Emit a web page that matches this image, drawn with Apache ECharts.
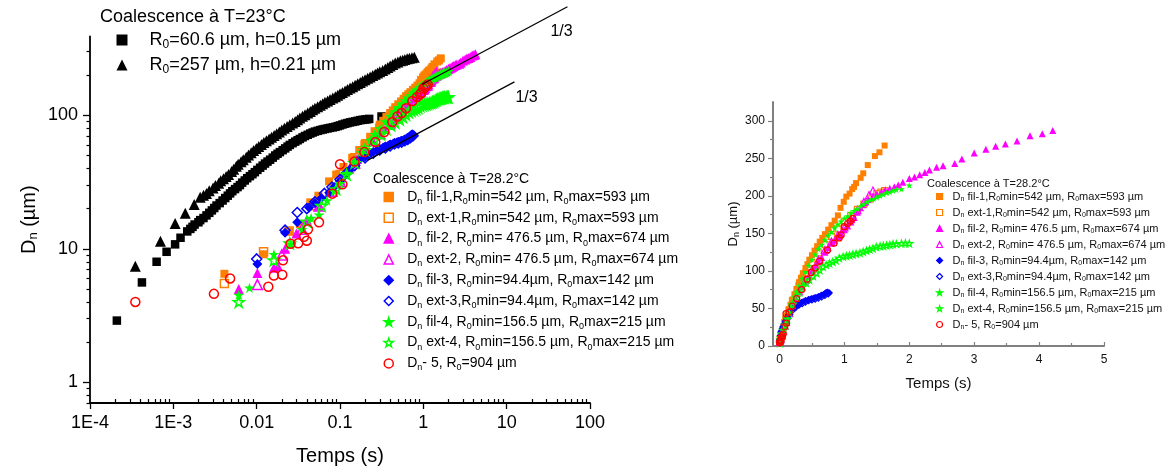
<!DOCTYPE html>
<html><head><meta charset="utf-8">
<script src="https://cdn.jsdelivr.net/npm/echarts@6/dist/echarts.min.js"></script>
<style>html,body{margin:0;padding:0;background:#fff}#c{width:1170px;height:472px}</style>
</head><body><div id="c"></div>
<script>
// ---------------- DATA (t in s, Dn in µm) ----------------
const sqData = [[0.00021,2.9],[0.00042,5.6],[0.00063,8.0],[0.00083,9.5],[0.00105,10.8],[0.00122,12.1],[0.00147,13.5],[0.0016,14.1],[0.0017,14.6],[0.0018,15.2],[0.002,15.8],[0.0021,16.4],[0.0023,17.0],[0.0025,17.8],[0.0027,18.6],[0.0029,19.4],[0.0031,20.2],[0.0033,21.1],[0.0036,22],[0.0039,23],[0.0042,24],[0.0045,25],[0.0048,26],[0.0051,27],[0.0055,28],[0.0059,29],[0.0063,30],[0.0067,31.3],[0.0072,32.5],[0.0077,33.8],[0.0083,35],[0.0089,36.2],[0.0095,37.5],[0.0102,39],[0.011,40.5],[0.0118,42],[0.0126,43.5],[0.0135,45],[0.0145,46.5],[0.0156,48.2],[0.0167,50],[0.0178,51.5],[0.019,53],[0.0205,54.8],[0.022,56.5],[0.0235,58.3],[0.025,60],[0.027,61.8],[0.029,63.5],[0.031,65],[0.033,66.5],[0.0355,68.3],[0.038,70],[0.041,71.5],[0.044,73],[0.047,74.3],[0.05,75.5],[0.054,76.5],[0.058,77.5],[0.062,78.3],[0.066,79],[0.071,79.8],[0.076,80.5],[0.082,81.2],[0.088,82],[0.094,83],[0.1,84],[0.107,85.3],[0.115,86.5],[0.123,87.5],[0.132,88.5],[0.142,89.3],[0.152,90],[0.163,91],[0.175,92],[0.187,92.5],[0.2,93],[0.212,93.5],[0.224,94],[0.315,98]];
const triData = [[0.00035,7.4],[0.0007,11.4],[0.00105,15.5],[0.00139,18.5],[0.00178,21.5],[0.0021,24.3],[0.0023,25.2],[0.0025,26],[0.0027,27.2],[0.003,28.5],[0.0032,29.8],[0.0035,31],[0.0037,32.3],[0.004,33.5],[0.0043,34.8],[0.0046,36],[0.005,38],[0.0053,39.5],[0.0057,41.5],[0.006,43],[0.0065,44.8],[0.0069,46.5],[0.0075,48.5],[0.008,50.5],[0.0086,52.5],[0.0092,54.5],[0.0099,56.5],[0.0106,58.5],[0.0114,60.5],[0.0122,62.5],[0.0131,64.5],[0.0141,66.5],[0.0151,68.5],[0.0162,70.5],[0.0174,72.8],[0.0187,75],[0.02,77.5],[0.0215,80],[0.0232,82.5],[0.025,85],[0.027,87.5],[0.029,90],[0.031,92.8],[0.033,95.5],[0.0355,98.3],[0.038,101],[0.041,104],[0.044,107],[0.047,110],[0.05,113],[0.054,116],[0.058,119],[0.062,122],[0.066,125],[0.071,128],[0.076,131.5],[0.082,134.8],[0.088,138],[0.094,141.5],[0.1,145],[0.107,148.5],[0.115,152],[0.123,156],[0.132,160],[0.142,164],[0.152,168],[0.163,172],[0.175,176],[0.187,180.5],[0.2,185],[0.215,189.5],[0.23,194],[0.247,198.5],[0.265,203],[0.282,207.5],[0.3,212],[0.325,217],[0.35,222],[0.375,228],[0.4,234],[0.43,240],[0.46,246],[0.495,251],[0.53,256],[0.565,259],[0.6,262],[0.64,265],[0.68,268],[0.73,270],[0.78,272]];
const fil1 = [[0.0041,6.5],[0.0121,9.1],[0.0245,13.5],[0.033,15.3],[0.044,22.3],[0.055,25],[0.074,32],[0.09,36],[0.11,41],[0.14,48],[0.17,55],[0.2,62],[0.23,69],[0.26,76],[0.3,85],[0.33,91],[0.36,97],[0.4,104],[0.43,109],[0.46,115],[0.5,121],[0.54,127],[0.58,133],[0.62,139],[0.66,144],[0.7,149],[0.75,155],[0.8,161],[0.85,167],[0.9,174],[0.94,184],[0.99,192],[1.03,199],[1.08,203],[1.12,209],[1.15,212],[1.18,217],[1.25,224],[1.29,230],[1.36,241],[1.47,253],[1.54,258],[1.62,267]];
const ext1 = [[0.0041,5.5],[0.0121,9.5],[0.0245,13.6],[0.05,21],[0.1,36],[0.15,48],[0.2,60],[0.3,80],[0.4,97],[0.5,111],[0.6,124],[0.7,135],[0.8,146],[0.9,156],[1.0,165],[1.1,174],[1.2,182],[1.3,189],[1.4,196],[1.5,203],[1.56,205],[1.62,207]];
const fil2 = [[0.0061,5.0],[0.0102,6.6],[0.0161,7.2],[0.018,7.4],[0.022,10],[0.03,13],[0.04,16.5],[0.056,21],[0.075,27],[0.1,33],[0.13,40],[0.16,47],[0.2,55],[0.25,64],[0.3,72],[0.35,79],[0.4,86],[0.45,93],[0.5,100],[0.55,106],[0.6,112],[0.65,118],[0.7,125],[0.75,131],[0.8,137],[0.85,141],[0.9,146],[0.95,150],[1.0,155],[1.05,160],[1.1,165],[1.15,171],[1.2,178],[1.25,184],[1.29,188],[1.33,192],[1.37,195],[1.44,199],[1.5,202],[1.57,205.6],[1.63,208],[1.7,210],[1.77,212],[1.83,214.5],[1.9,218],[2.0,223],[2.08,225],[2.16,228],[2.24,231],[2.31,234.5],[2.42,238],[2.52,240],[2.7,243],[2.81,249],[3.0,257],[3.18,262],[3.33,266],[3.48,269],[3.66,273],[3.86,280],[4.05,282.6],[4.21,287]];
const ext2 = [[0.0102,5.4],[0.02,9],[0.035,14],[0.056,20.9],[0.08,27],[0.1,32],[0.15,44],[0.2,54],[0.3,73],[0.4,88],[0.5,102],[0.6,115],[0.7,128],[0.8,139],[0.9,148],[1.0,158],[1.1,169],[1.2,181],[1.3,192],[1.38,201],[1.44,207]];
const fil3 = [[0.0102,7.7],[0.0219,13.2],[0.0307,15.8],[0.0425,20.4],[0.05,22],[0.06,24],[0.074,26.3],[0.085,29],[0.1,32],[0.117,36],[0.13,39],[0.15,44],[0.17,46.5],[0.2,49],[0.22,51],[0.25,53],[0.28,55],[0.3,56],[0.33,57.5],[0.35,58.5],[0.38,59.5],[0.4,60.5],[0.43,61],[0.45,62],[0.48,62.5],[0.5,63],[0.53,64],[0.55,64.5],[0.58,65],[0.6,66],[0.63,67],[0.65,68],[0.68,69],[0.7,70],[0.72,71.5],[0.74,72],[0.77,71]];
const ext3 = [[0.01,8.4],[0.0219,13.8],[0.0307,18.7],[0.04,20],[0.05,22.5],[0.065,26],[0.08,29],[0.1,33],[0.12,37],[0.15,42],[0.2,48],[0.25,52],[0.3,55],[0.35,57],[0.4,59],[0.45,61],[0.5,62],[0.55,63],[0.6,64.5],[0.65,66],[0.7,68],[0.75,70]];
const fil4 = [[0.0061,4.5],[0.0082,5.1],[0.0161,9.1],[0.0255,10.8],[0.035,14],[0.045,17],[0.056,18],[0.07,23],[0.085,27],[0.1,31],[0.12,37],[0.15,45],[0.18,53],[0.2,58],[0.23,65],[0.26,72],[0.3,80],[0.35,90],[0.4,99],[0.45,107],[0.5,115],[0.55,122],[0.6,129],[0.65,135],[0.7,141],[0.75,147],[0.8,152],[0.85,157],[0.9,162],[0.95,166],[1.0,170],[1.05,173],[1.1,177],[1.15,180],[1.2,183],[1.25,186],[1.3,189],[1.35,192],[1.4,194],[1.45,196],[1.5,198],[1.55,200],[1.6,202],[1.65,204],[1.7,205],[1.75,207],[1.8,208],[1.88,209],[2.0,214]];
const ext4 = [[0.0061,4.0],[0.0161,8.2],[0.025,11],[0.04,16],[0.06,21],[0.09,28],[0.12,36],[0.15,44],[0.2,55],[0.26,65],[0.31,72],[0.36,79],[0.41,84],[0.46,88],[0.52,93],[0.57,97],[0.62,101],[0.67,105.5],[0.72,108],[0.77,110],[0.82,112],[0.87,114],[0.92,117],[0.98,119],[1.03,120],[1.08,121],[1.13,122],[1.18,123],[1.24,124],[1.29,125.5],[1.34,127],[1.39,128.6],[1.44,130],[1.49,132],[1.55,133],[1.6,133.5],[1.65,134],[1.7,135],[1.75,135.7],[1.8,136],[1.88,136.6],[1.94,137],[2.0,136.6]];
const d5 = [[0.00035,4.0],[0.00307,4.6],[0.0048,6.0],[0.0138,5.2],[0.0161,6.3],[0.0203,6.4],[0.0207,8.2],[0.0255,10.9],[0.0315,11],[0.037,12.3],[0.04,11.5],[0.0413,14],[0.056,15.8],[0.081,25.9],[0.1,43],[0.107,30.4],[0.149,45],[0.196,53],[0.265,63],[0.34,75],[0.425,89],[0.488,98],[0.55,104],[0.62,113],[0.74,128],[0.84,137],[0.92,144],[0.95,148],[1.0,159],[1.05,163],[1.09,166],[1.13,170]];
const slopeA = [[0.97,171],[53.6,650]];
const slopeB = [[0.213,46],[12.4,178]];

const xMajor = [1e-4,1e-3,0.01,0.1,1,10,100];
const xLabels = ['1E-4','1E-3','0.01','0.1','1','10','100'];
const yMajor = [1,10,100];
const yLabels = ['1','10','100'];
const x2Major = [0,1,2,3,4,5];
const x2Labels = ['0','1','2','3','4','5'];
const y2Major = [0,50,100,150,200,250,300];
const y2Labels = ['0','50','100','150','200','250','300'];
const x2Minor = [0.5,1.5,2.5,3.5,4.5];
const y2Minor = [25,75,125,175,225,275];

const labels = {
  'sq':'R_0=60.6 µm, h=0.15 µm',
  'tri':'R_0=257 µm, h=0.21 µm',
  'fil-1':'D_n fil-1,R_0min=542 µm, R_0max=593 µm',
  'ext-1':'D_n ext-1,R_0min=542 µm, R_0max=593 µm',
  'fil-2':'D_n fil-2, R_0min= 476.5 µm, R_0max=674 µm',
  'ext-2':'D_n ext-2, R_0min= 476.5 µm, R_0max=674 µm',
  'fil-3':'D_n fil-3, R_0min=94.4µm, R_0max=142 µm',
  'ext-3':'D_n ext-3,R_0min=94.4µm, R_0max=142 µm',
  'fil-4':'D_n fil-4, R_0min=156.5 µm, R_0max=215 µm',
  'ext-4':'D_n ext-4, R_0min=156.5 µm, R_0max=215 µm',
  'd5':'D_n- 5, R_0=904 µm'
};
// ---------------------------------------------------------

const FONT = "'Liberation Sans', Arial, Helvetica, sans-serif";
const STAR = 'path://M50,0L61.2,34.5L97.6,34.5L68.2,55.9L79.4,90.5L50,69.1L20.6,90.5L31.8,55.9L2.4,34.5L38.8,34.5Z';
const mult = [2,3,4,5,6,7,8,9];
const xMinor = [];
xMajor.slice(0,-1).forEach(d => mult.forEach(k => xMinor.push(+(k*d).toPrecision(3))));
const yMinor = [0.7,0.8,0.9];
[1,10].forEach(d => mult.forEach(k => yMinor.push(k*d)));
yMinor.push(200,300);

function toRich(str, m, s) {
  return str.split(/_(.)/).map((p,i) => i % 2 ? '{'+s+'|'+p+'}' : (p ? '{'+m+'|'+p+'}' : '')).join('');
}
function pick(vals, labs) {
  return v => { const i = vals.findIndex(m => Math.abs(m - v) <= Math.abs(m)*1e-6 + 1e-12); return i >= 0 ? labs[i] : ''; };
}

const defs = [
  {name:'fil-1', data:fil1, symbol:'rect', color:'#FF8000', open:false, sL:8, sR:6},
  {name:'ext-1', data:ext1, symbol:'rect', color:'#FF8000', open:true, sL:8, sR:6},
  {name:'fil-2', data:fil2, symbol:'triangle', color:'#FF00FF', open:false, sL:10, sR:7},
  {name:'ext-2', data:ext2, symbol:'triangle', color:'#FF00FF', open:true, sL:10, sR:7},
  {name:'fil-3', data:fil3, symbol:'diamond', color:'#0000FF', open:false, sL:10, sR:7},
  {name:'ext-3', data:ext3, symbol:'diamond', color:'#0000FF', open:true, sL:10, sR:7},
  {name:'fil-4', data:fil4, symbol:STAR, color:'#00FF00', open:false, sL:11, sR:7},
  {name:'ext-4', data:ext4, symbol:STAR, color:'#00FF00', open:true, sL:11, sR:7},
  {name:'d5', data:d5, symbol:'circle', color:'#FF0000', open:true, sL:9, sR:6}
];

function sty(color, open, bw) {
  return open ? {color:'rgba(255,255,255,0)', borderColor:color, borderWidth:bw, opacity:1}
              : {color:color, borderColor:color, borderWidth:0, opacity:1};
}

const series = [];
series.push({type:'scatter', name:'sq', data:sqData, xAxisIndex:0, yAxisIndex:0, symbol:'rect', symbolSize:8.5, itemStyle:sty('#000',false), silent:true});
series.push({type:'scatter', name:'tri', data:triData, xAxisIndex:0, yAxisIndex:0, symbol:'triangle', symbolSize:11, itemStyle:sty('#000',false), silent:true});
defs.forEach(d => series.push({type:'scatter', name:d.name, data:d.data, xAxisIndex:0, yAxisIndex:0, symbol:d.symbol, symbolKeepAspect:true, symbolSize:d.sL, itemStyle:sty(d.color,d.open,1.5), silent:true}));
defs.forEach(d => series.push({type:'scatter', name:d.name, data:d.data, xAxisIndex:2, yAxisIndex:2, symbol:d.symbol, symbolKeepAspect:true, symbolSize:d.sR, itemStyle:sty(d.color,d.open,1.2), silent:true}));
[[slopeA,[-17,25]],[slopeB,[1,16]]].forEach(([dat,off]) => series.push({
  type:'line', data:dat, xAxisIndex:0, yAxisIndex:0, symbol:'none', showSymbol:false, clip:false, silent:true,
  lineStyle:{color:'#000', width:1.3},
  endLabel:{show:true, formatter:'1/3', fontSize:16, fontFamily:FONT, color:'#000', distance:0, align:'left', verticalAlign:'middle', offset:off}
}));

const axBlack = {color:'#000', width:1.8};
const axGray = {color:'#808080', width:2};
const lbl = (size, col) => ({fontSize:size, fontFamily:FONT, color:col});

const option = {
  animation:false,
  backgroundColor:'#fff',
  textStyle:{fontFamily:FONT},
  grid:[
    {left:90, top:36.4, width:500, height:366.6},
    {left:773, top:102, width:331, height:244}
  ],
  xAxis:[
    {gridIndex:0, type:'log', logBase:10, min:1e-4, max:100, position:'bottom',
     axisLine:{lineStyle:axBlack}, splitLine:{show:false},
     axisTick:{customValues:xMajor, length:6, inside:false, lineStyle:{color:'#000', width:1.3}},
     axisLabel:{customValues:xMajor, formatter:pick(xMajor,xLabels), margin:11, ...lbl(18,'#000')},
     name:'Temps (s)', nameLocation:'middle', nameGap:43, nameTextStyle:lbl(20,'#000')},
    {gridIndex:0, type:'log', logBase:10, min:1e-4, max:100, position:'bottom',
     axisLine:{show:false}, splitLine:{show:false}, axisLabel:{show:false},
     axisTick:{customValues:xMinor, length:4, inside:true, lineStyle:{color:'#000', width:1.2}}},
    {gridIndex:1, type:'value', min:-0.1, max:5, position:'bottom',
     axisLine:{onZero:false, lineStyle:axGray}, splitLine:{show:false},
     axisTick:{customValues:x2Major, length:4, inside:true, lineStyle:{color:'#808080', width:1.2}},
     axisLabel:{customValues:x2Major, formatter:pick(x2Major,x2Labels), margin:8, ...lbl(12,'#111')},
     name:'Temps (s)', nameLocation:'middle', nameGap:30, nameTextStyle:lbl(15,'#111')},
    {gridIndex:1, type:'value', min:-0.1, max:5, position:'bottom',
     axisLine:{show:false, onZero:false}, splitLine:{show:false}, axisLabel:{show:false},
     axisTick:{customValues:x2Minor, length:3, inside:true, lineStyle:{color:'#808080', width:1.2}}}
  ],
  yAxis:[
    {gridIndex:0, type:'log', logBase:10, min:0.7, max:390, position:'left',
     axisLine:{lineStyle:axBlack}, splitLine:{show:false},
     axisTick:{customValues:yMajor, length:7, inside:false, lineStyle:{color:'#000', width:1.3}},
     axisLabel:{customValues:yMajor, formatter:pick(yMajor,yLabels), margin:12, ...lbl(18,'#000')},
     name:'{a|D}{s|n}{a| (µm)}', nameLocation:'middle', nameGap:50,
     nameTextStyle:{fontFamily:FONT, rich:{a:{fontSize:20, lineHeight:22, fontFamily:FONT, color:'#000'}, s:{fontSize:13, lineHeight:13, padding:[9,0,0,0], fontFamily:FONT, color:'#000'}}}},
    {gridIndex:0, type:'log', logBase:10, min:0.7, max:390, position:'left',
     axisLine:{show:false}, splitLine:{show:false}, axisLabel:{show:false},
     axisTick:{customValues:yMinor, length:3.5, inside:false, lineStyle:{color:'#000', width:1.2}}},
    {gridIndex:1, type:'value', min:0, max:325, position:'left',
     axisLine:{onZero:false, lineStyle:axGray}, splitLine:{show:false},
     axisTick:{customValues:y2Major, length:5, inside:false, lineStyle:{color:'#808080', width:1.2}},
     axisLabel:{customValues:y2Major, formatter:pick(y2Major,y2Labels), margin:8, ...lbl(12,'#111')},
     name:'{a|D}{s|n}{a| (µm)}', nameLocation:'middle', nameGap:32,
     nameTextStyle:{fontFamily:FONT, rich:{a:{fontSize:13, lineHeight:15, fontFamily:FONT, color:'#111'}, s:{fontSize:9, lineHeight:9, padding:[6,0,0,0], fontFamily:FONT, color:'#111'}}}},
    {gridIndex:1, type:'value', min:0, max:325, position:'left',
     axisLine:{show:false, onZero:false}, splitLine:{show:false}, axisLabel:{show:false},
     axisTick:{customValues:y2Minor, length:3, inside:false, lineStyle:{color:'#808080', width:1.2}}}
  ],
  title:[
    {text:'Coalescence à T=23°C', left:100, top:7, padding:0, textStyle:{fontSize:18, lineHeight:20, fontWeight:'normal', color:'#000', fontFamily:FONT}},
    {text:'Coalescence à T=28.2°C', left:373, top:171, padding:0, textStyle:{fontSize:14, lineHeight:16, fontWeight:'normal', color:'#000', fontFamily:FONT}},
    {text:'Coalescence à T=28.2°C', left:927, top:177, padding:0, textStyle:{fontSize:11, lineHeight:13, fontWeight:'normal', color:'#111', fontFamily:FONT}}
  ],
  legend:[
    {data:['sq','tri'], left:116.5, top:29, orient:'vertical', padding:0, itemWidth:11, itemHeight:11, itemGap:3, selectedMode:false,
     formatter:n => toRich(labels[n],'m','s'),
     textStyle:{padding:[0,0,0,17], rich:{m:{fontSize:18, lineHeight:26, fontFamily:FONT, color:'#000', verticalAlign:'middle'}, s:{fontSize:12, lineHeight:12, padding:[10,0,0,0], fontFamily:FONT, color:'#000', verticalAlign:'middle'}}}},
    {data:defs.map(d=>d.name), left:383.5, top:188, orient:'vertical', padding:0, itemWidth:9, itemHeight:9, itemGap:2.8, selectedMode:false,
     itemStyle:{borderWidth:1.5},
     formatter:n => toRich(labels[n],'m','s'),
     textStyle:{padding:[0,0,0,9], rich:{m:{fontSize:14, lineHeight:20, fontFamily:FONT, color:'#000', verticalAlign:'middle'}, s:{fontSize:9, lineHeight:9, padding:[9,0,0,0], fontFamily:FONT, color:'#000', verticalAlign:'middle'}}}},
    {data:defs.map(d=>d.name), left:936, top:190, orient:'vertical', padding:0, itemWidth:6, itemHeight:6, itemGap:3, selectedMode:false,
     itemStyle:{borderWidth:1.2},
     formatter:n => toRich(labels[n],'m','s'),
     textStyle:{padding:[0,0,0,5], rich:{m:{fontSize:11, lineHeight:14, fontFamily:FONT, color:'#111', verticalAlign:'middle'}, s:{fontSize:7, lineHeight:7, padding:[6,0,0,0], fontFamily:FONT, color:'#111', verticalAlign:'middle'}}}}
  ],
  series:series
};
const chart = echarts.init(document.getElementById('c'), null, {renderer:'canvas'});
chart.setOption(option);
</script>
</body></html>
